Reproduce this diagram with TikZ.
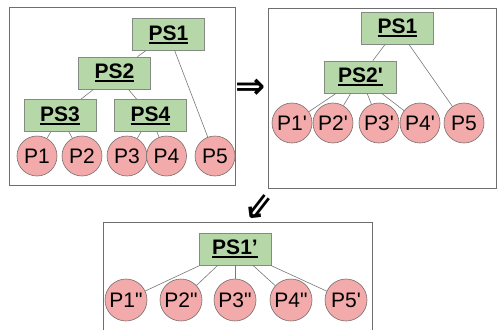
\documentclass[tikz,border=0pt]{standalone}
\usepackage{fontspec}
\setmainfont{Liberation Sans}[Ligatures=TeXOff]
\newfontfamily\symfont{DejaVu Sans}
\newcommand{\ulpx}[1]{\setbox0\hbox{#1}\rlap{\rule[-3.5pt]{\wd0}{2pt}}\box0}
\definecolor{psfill}{RGB}{182,215,168}
\definecolor{psdraw}{RGB}{130,140,130}
\definecolor{pfill}{RGB}{243,170,170}
\definecolor{pdraw}{RGB}{120,110,110}
\definecolor{framecol}{RGB}{110,110,110}
\definecolor{linkcol}{RGB}{120,120,120}
\tikzset{
  psbox/.style={draw=psdraw, fill=psfill, line width=0.7pt, minimum width=72pt, minimum height=32pt, inner sep=0pt, font=\fontsize{21}{24}\selectfont\bfseries},
  pcirc/.style={circle, draw=pdraw, fill=pfill, line width=0.6pt, minimum size=40pt, inner sep=0pt, font=\fontsize{21}{24}\selectfont},
  pcircb/.style={pcirc, minimum size=42pt},
  frame/.style={draw=framecol, line width=0.8pt},
  link/.style={draw=linkcol, line width=0.6pt},
  arr/.style={font=\symfont\bfseries\fontsize{36}{36}\selectfont, inner sep=0pt}
}
\begin{document}
\begin{tikzpicture}[x=1pt,y=-1pt]
\useasboundingbox (0,0) rectangle (497,329);
% frames
\draw[frame] (9,7) rectangle (235,185);
\draw[frame] (268,8) rectangle (496,188);
\draw[frame] (103,335) -- (103,222) -- (372,222) -- (372,335);
% box 1
\node[psbox] (a1) at (168.5,34.5) {\ulpx{PS1}};
\node[psbox] (a2) at (114.5,73) {\ulpx{PS2}};
\node[psbox] (a3) at (60,115.5) {\ulpx{PS3}};
\node[psbox] (a4) at (150.5,115.5) {\ulpx{PS4}};
\node[pcirc] (p1) at (37,156) {P1};
\node[pcirc] (p2) at (82,156) {P2};
\node[pcirc] (p3) at (127,156) {P3};
\node[pcirc] (p4) at (166.5,156) {P4};
\node[pcirc] (p5) at (215,156) {P5};
\draw[link] (a1) -- (a2);
\draw[link] (a1) -- (p5);
\draw[link] (a2) -- (a3);
\draw[link] (a2) -- (a4);
\draw[link] (a3) -- (p1);
\draw[link] (a3) -- (p2);
\draw[link] (a4) -- (p3);
\draw[link] (a4) -- (p4);
% box 2
\node[psbox] (b1) at (397.5,28) {\ulpx{PS1}};
\node[psbox] (b2) at (360.5,77) {\ulpx{PS2'}};
\node[pcirc] (q1) at (292,123) {P1'};
\node[pcirc] (q2) at (333,123) {P2'};
\node[pcirc] (q3) at (379,123) {P3'};
\node[pcirc] (q4) at (420,123) {P4'};
\node[pcirc] (q5) at (464,123) {P5};
\draw[link] (b1) -- (b2);
\draw[link] (b1) -- (q5);
\draw[link] (b2) -- (q1);
\draw[link] (b2) -- (q2);
\draw[link] (b2) -- (q3);
\draw[link] (b2) -- (q4);
% box 3
\node[psbox] (c1) at (235,249) {\ulpx{PS1’}};
\node[pcircb] (r1) at (126,300) {P1"};
\node[pcircb] (r2) at (181,300) {P2"};
\node[pcircb] (r3) at (235,300) {P3"};
\node[pcircb] (r4) at (291,300) {P4"};
\node[pcircb] (r5) at (346,300) {P5'};
\draw[link] (c1) -- (r1);
\draw[link] (c1) -- (r2);
\draw[link] (c1) -- (r3);
\draw[link] (c1) -- (r4);
\draw[link] (c1) -- (r5);
% transition arrows
\node[arr] (t1) at (250.5,88.5) {⇒};
\node[arr, rotate=-128] (t2) at (258,206) {⇒};
\end{tikzpicture}
\end{document}
